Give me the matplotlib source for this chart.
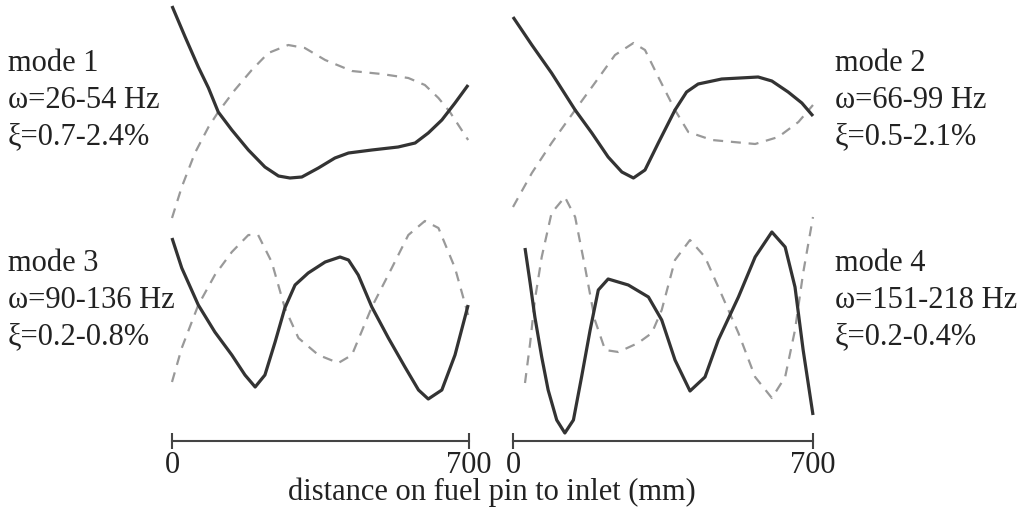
import matplotlib
matplotlib.use("Agg")
import matplotlib.pyplot as plt

plt.rcParams["font.family"] = ["Liberation Serif", "DejaVu Serif"]

# mode shapes: position along pin (mm) and normalised amplitude
m1_x_solid = [0, 31, 62, 86, 109, 141, 180, 219, 251, 278, 306, 345, 384, 416, 471, 533, 573, 604, 636, 667, 698]
m1_y_solid = [1.04, 0.73, 0.43, 0.22, -0.02, -0.20, -0.40, -0.57, -0.66, -0.68, -0.67, -0.58, -0.48, -0.43,
              -0.40, -0.37, -0.33, -0.23, -0.10, 0.07, 0.25]
m1_x_dash = [0, 23, 54, 86, 109, 148, 188, 227, 274, 313, 361, 424, 494, 557, 596, 628, 655, 698]
m1_y_dash = [-1.08, -0.77, -0.43, -0.17, -0.02, 0.20, 0.40, 0.57, 0.65, 0.62, 0.50, 0.39, 0.36, 0.32, 0.25,
             0.12, -0.02, -0.30]

m2_x_solid = [0, 44, 90, 145, 184, 222, 254, 281, 308, 339, 378, 405, 432, 487, 572, 604, 642, 674, 700]
m2_y_solid = [0.93, 0.65, 0.37, 0.00, -0.23, -0.47, -0.62, -0.68, -0.60, -0.33, 0.00, 0.18, 0.26, 0.31, 0.33,
              0.29, 0.18, 0.07, -0.06]
m2_x_dash = [0, 44, 90, 145, 191, 238, 281, 308, 339, 378, 409, 464, 565, 619, 666, 700]
m2_y_dash = [-0.97, -0.63, -0.33, 0.00, 0.27, 0.55, 0.67, 0.60, 0.33, 0.00, -0.22, -0.30, -0.34, -0.27,
             -0.12, 0.05]

m3_x_solid = [0, 23, 62, 101, 141, 172, 196, 219, 243, 266, 290, 321, 361, 396, 416, 439, 471, 510, 549, 581,
              604, 636, 667, 698]
m3_y_solid = [0.72, 0.42, 0.05, -0.22, -0.45, -0.65, -0.77, -0.65, -0.32, 0.02, 0.25, 0.37, 0.48, 0.53, 0.50,
              0.35, 0.03, -0.28, -0.57, -0.80, -0.89, -0.80, -0.45, 0.05]
m3_x_dash = [0, 23, 62, 101, 141, 180, 203, 235, 266, 298, 345, 392, 424, 471, 518, 557, 596, 628, 667, 698]
m3_y_dash = [-0.72, -0.38, 0.05, 0.35, 0.58, 0.75, 0.75, 0.48, 0.02, -0.28, -0.45, -0.53, -0.45, 0.03, 0.42,
             0.75, 0.89, 0.82, 0.42, -0.05]

m4_x_solid = [28, 40, 51, 67, 82, 102, 121, 141, 160, 180, 199, 222, 269, 316, 347, 378, 413, 448, 479, 526,
              565, 604, 635, 658, 677, 700]
m4_y_solid = [0.62, 0.27, -0.07, -0.47, -0.80, -1.10, -1.23, -1.10, -0.67, -0.20, 0.20, 0.31, 0.25, 0.13,
              -0.10, -0.50, -0.81, -0.67, -0.30, 0.13, 0.53, 0.78, 0.63, 0.23, -0.40, -1.05]
m4_x_dash = [28, 40, 51, 67, 90, 121, 145, 168, 191, 215, 246, 292, 324, 347, 378, 413, 448, 479, 526, 565,
             604, 635, 658, 677, 700]
m4_y_dash = [-0.73, -0.33, 0.10, 0.53, 0.97, 1.13, 0.93, 0.43, -0.10, -0.40, -0.42, -0.33, -0.23, 0.00, 0.50,
             0.70, 0.53, 0.23, -0.23, -0.67, -0.88, -0.67, -0.20, 0.37, 0.93]

labels = [
    ["mode 1", "ω=26-54 Hz", "ξ=0.7-2.4%"],
    ["mode 2", "ω=66-99 Hz", "ξ=0.5-2.1%"],
    ["mode 3", "ω=90-136 Hz", "ξ=0.2-0.8%"],
    ["mode 4", "ω=151-218 Hz", "ξ=0.2-0.4%"],
]
x_ticks = [0, 700]
x_label = "distance on fuel pin to inlet (mm)"

SOLID = "#333333"
DASH = "#999999"
TEXT = "#222222"
W, H = 1024, 517

fig = plt.figure(figsize=(W / 100, H / 100), dpi=100)


def px_axes(left, right, top, bottom):
    return fig.add_axes([left / W, 1 - bottom / H, (right - left) / W, (bottom - top) / H])


panels = [
    (m1_x_solid, m1_y_solid, m1_x_dash, m1_y_dash),
    (m2_x_solid, m2_y_solid, m2_x_dash, m2_y_dash),
    (m3_x_solid, m3_y_solid, m3_x_dash, m3_y_dash),
    (m4_x_solid, m4_y_solid, m4_x_dash, m4_y_dash),
]
cols = [(172, 469), (513, 813)]

for i, (xs, ys, xd, yd) in enumerate(panels):
    row, col = divmod(i, 2)
    left, right = cols[col]
    if row == 0:
        ax = px_axes(left, right, -20, 240)
        ax.set_ylim(-1.3, 1.3)
    else:
        ax = px_axes(left, right, 180, 441)
        ax.set_ylim(-1.31, 1.30)
    ax.set_xlim(0, 700)
    ax.patch.set_alpha(0)
    for s in ax.spines.values():
        s.set_visible(False)
    ax.set_yticks([])
    ax.plot(xd, yd, color=DASH, lw=1.6, ls=(0, (4.5, 3.5)), clip_on=False, zorder=1)
    ax.plot(xs, ys, color=SOLID, lw=2.3, clip_on=False, zorder=2,
            solid_capstyle="butt", solid_joinstyle="round")
    if row == 1:
        ax.spines["bottom"].set_visible(True)
        ax.spines["bottom"].set_color("#444444")
        ax.spines["bottom"].set_linewidth(1.5)
        ax.set_xticks(x_ticks)
        ax.set_xticklabels([str(t) for t in x_ticks])
        ax.tick_params(axis="x", direction="inout", length=12, width=1.5, color="#444444",
                       labelsize=22, pad=1, labelcolor=TEXT)
    else:
        ax.set_xticks([])

    tx = 8 if col == 0 else 835
    base = 71 if row == 0 else 271
    for k, line in enumerate(labels[i]):
        fig.text(tx / W, 1 - (base + 36.5 * k) / H, line, fontsize=22, color=TEXT,
                 ha="left", va="baseline")

fig.text(492 / W, 1 - 500 / H, x_label, fontsize=22, color=TEXT, ha="center", va="baseline")

fig.savefig("out.png", dpi=100)
